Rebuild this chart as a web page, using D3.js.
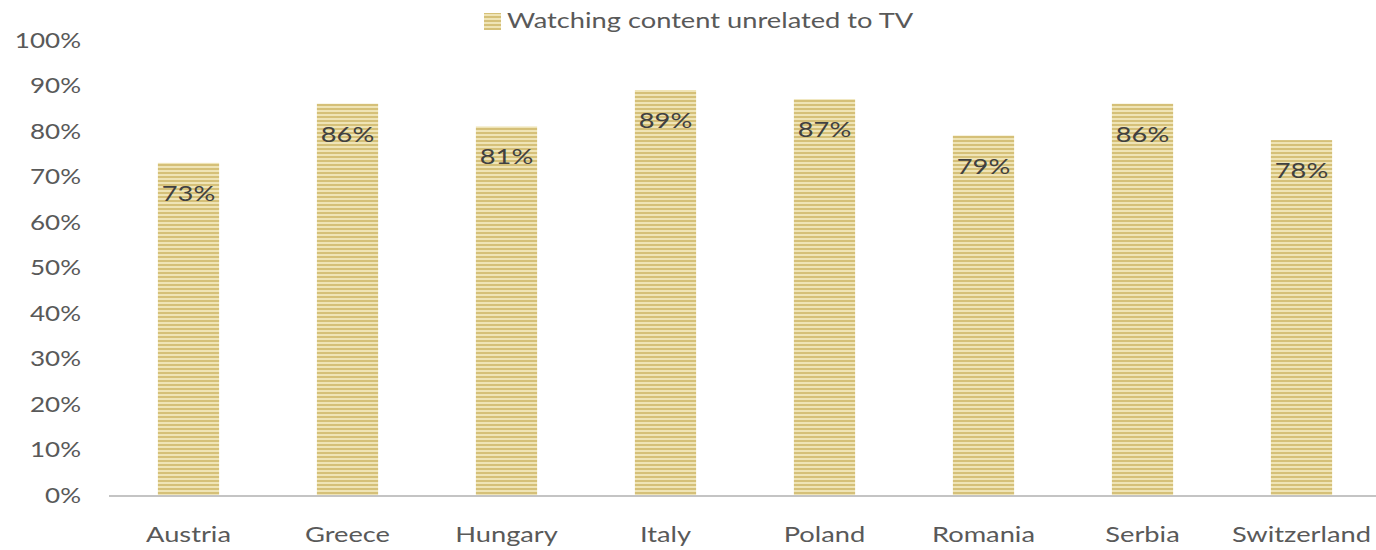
<!DOCTYPE html>
<html>
<head>
<meta charset="utf-8">
<script src="https://cdn.jsdelivr.net/npm/d3@7"></script>
<style>
  html, body { margin: 0; padding: 0; background: #fff; }
  svg { display: block; font-family: Lato, "Open Sans", sans-serif; }
</style>
</head>
<body>
<svg id="chart" width="1376" height="550"></svg>
<script>
// Share of respondents per country
const countries = ["Austria", "Greece", "Hungary", "Italy", "Poland", "Romania", "Serbia", "Switzerland"];
const shares = [73, 86, 81, 89, 87, 79, 86, 78];
const yTicks = [0, 10, 20, 30, 40, 50, 60, 70, 80, 90, 100];
const seriesName = "Watching content unrelated to TV";

const svg = d3.select("#chart");
const STRETCH = 1.24; // wide text setting

// Place a text at (px, py) with horizontal stretch
function placeWide(sel, px, py) {
  sel.attr("x", 0).attr("y", 0)
    .attr("transform", (d, i) => `translate(${typeof px === "function" ? px(d, i) : px},${typeof py === "function" ? py(d, i) : py}) scale(${STRETCH},1)`);
}

// Horizontal-stripe fill for the bars
const defs = svg.append("defs");
const pat = defs.append("pattern")
  .attr("id", "stripes")
  .attr("patternUnits", "userSpaceOnUse")
  .attr("width", 8).attr("height", 4);
pat.append("rect").attr("width", 8).attr("height", 4).attr("fill", "#efe4b6");
pat.append("rect").attr("y", 0).attr("width", 8).attr("height", 2).attr("fill", "#d5c078");

const x = d3.scaleBand()
  .domain(countries)
  .range([109, 1381])
  .paddingInner(0.615)
  .paddingOuter(0.3075);

const y = d3.scaleLinear().domain([0, 100]).range([495, 40]);

// Y axis labels
const yAxis = d3.axisLeft(y)
  .tickValues(yTicks)
  .tickFormat(d => d + "%")
  .tickSize(0)
  .tickPadding(0);
const gy = svg.append("g").attr("transform", "translate(81,0)").call(yAxis);
gy.select(".domain").remove();
gy.selectAll("text")
  .attr("fill", "#595959")
  .attr("font-size", 21)
  .attr("font-family", "Lato, sans-serif")
  .attr("dy", "0.35em");
placeWide(gy.selectAll("text"), 0, 0);

// Bars
svg.append("g").selectAll("rect")
  .data(countries)
  .join("rect")
  .attr("x", d => x(d))
  .attr("width", x.bandwidth())
  .attr("y", (d, i) => y(shares[i]))
  .attr("height", (d, i) => y(0) - y(shares[i]))
  .attr("fill", "url(#stripes)");

// Baseline
svg.append("line")
  .attr("x1", 109).attr("x2", 1381)
  .attr("y1", y(0) + 1).attr("y2", y(0) + 1)
  .attr("stroke", "#c4c4c4").attr("stroke-width", 2);

// X axis labels
const xAxis = d3.axisBottom(x).tickSize(0).tickPadding(0);
const gx = svg.append("g").attr("transform", `translate(0,${y(0)})`).call(xAxis);
gx.select(".domain").remove();
gx.selectAll("text")
  .attr("dy", 0)
  .attr("fill", "#595959")
  .attr("font-size", 22)
  .attr("font-family", "Lato, sans-serif");
placeWide(gx.selectAll("text"), 0, 47);

// Value labels inside the bar tops
const vl = svg.append("g").selectAll("text")
  .data(countries)
  .join("text")
  .attr("text-anchor", "middle")
  .attr("fill", "#404040")
  .attr("font-size", 22)
  .text((d, i) => shares[i] + "%");
placeWide(vl, d => x(d) + x.bandwidth() / 2, (d, i) => y(shares[i]) + 38);

// Legend
const lg = svg.append("g");
lg.append("rect")
  .attr("x", 484).attr("y", 13).attr("width", 17).attr("height", 17)
  .attr("fill", "url(#stripes)");
const lt = lg.append("text")
  .attr("fill", "#595959")
  .attr("font-size", 22)
  .text(seriesName);
placeWide(lt, 507, 28);
</script>
</body>
</html>
